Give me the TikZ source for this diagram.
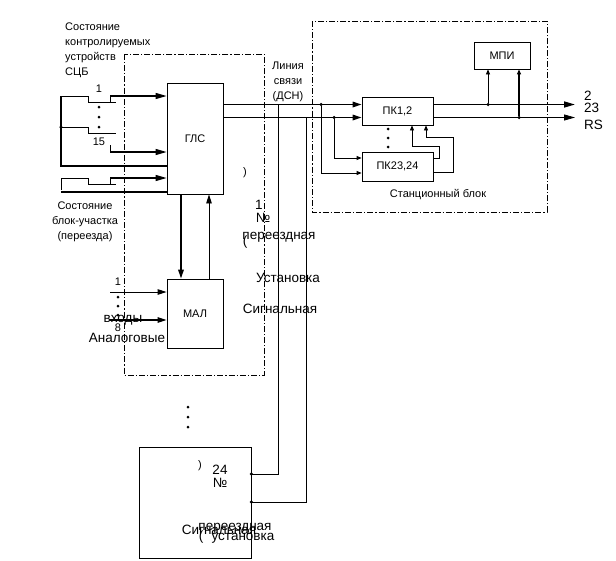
\documentclass[tikz,border=0pt]{standalone}
\usepackage{fontspec}
\setmainfont{Liberation Sans}
\usetikzlibrary{arrows.meta}
\begin{document}
\begin{tikzpicture}[x=1pt,y=-1pt,
 thinl/.style={line width=0.8pt},
 medl/.style={line width=1.2pt},
 thickl/.style={line width=1.6pt},
 box/.style={draw,line width=0.8pt,rectangle,inner sep=0pt,font=\fontsize{11}{13}\selectfont},
 ddash/.style={line width=0.8pt,dash pattern=on 6pt off 2pt on 1.2pt off 2pt},
 bigtip/.style={-{Triangle[length=11pt,width=6pt]}},
 midtip/.style={-{Triangle[length=9pt,width=5.5pt]}},
 smalltip/.style={-{Triangle[length=5pt,width=4pt]}},
 lab/.style={font=\fontsize{11}{15}\selectfont,inner sep=0pt},
 biglab/.style={font=\fontsize{13.5}{15}\selectfont,inner sep=0pt},
 jdot/.style={circle,fill,inner sep=0pt,minimum size=3.5pt},
 ldot/.style={circle,fill,inner sep=0pt,minimum size=3pt}]
\fill[white] (0,0) rectangle (616,560);
\useasboundingbox (0,0) rectangle (616,560);

% dash-dot frames
\draw[ddash] (124,54) rectangle (264,375);
\draw[ddash] (312,21) rectangle (547,212);

% blocks
\node[box,minimum width=56pt,minimum height=111pt] (gls) at (195,138.5) {ГЛС};
\node[box,minimum width=56pt,minimum height=69pt] (mal) at (195,313.5) {МАЛ};
\node[box,minimum width=71pt,minimum height=28pt] (pk12) at (397.5,111) {ПК1,2};
\node[box,minimum width=71pt,minimum height=29pt] (pk2324) at (397.5,166.5) {ПК23,24};
\node[box,minimum width=56pt,minimum height=27pt] (mpi) at (502,55.5) {МПИ};
\node[box,minimum width=112pt,minimum height=111pt] (bot) at (195,502.5) {};

% helper levels
\coordinate (u) at (0,104.5);
\coordinate (l) at (0,117.5);

% left texts
\node[lab,align=left,anchor=north west] (t1) at (65,22.5) {Состояние\\контролируемых\\устройств\\СЦБ};
\node[lab,align=center] (t2) at (85,222) {Состояние\\блок-участка\\(переезда)};
\node[lab,align=center] (t3) at (288,81.5) {Линия\\связи\\(ДСН)};
\node[lab] (t4) at (438,195) {Станционный блок};

% contacts into ГЛС
\coordinate (c1) at (110,96);
\coordinate (c15) at (110,152);
\coordinate (c3) at (110,178);
\coordinate (cm) at (61,166);
\coordinate (cb) at (61,192);
\draw[medl] (61,96) -- (cm) -- (cm -| gls.west);
\draw[thinl] (61,96) -- (88,96) -- (88,102) -- (116,102);
\draw[thinl] (110,102) -- (c1);
\draw[medl,bigtip] (c1) -- (c1 -| gls.west);
\draw[thinl] (61,127) -- (88,127) -- (88,133) -- (116,133);
\draw[thinl] (110,145) -- (c15);
\draw[medl,bigtip] (c15) -- (c15 -| gls.west);
\draw[thinl] (61,190) -- (61,178) -- (88,178) -- (88,184) -- (116,184);
\draw[thinl] (110,184) -- (c3);
\draw[medl,bigtip] (c3) -- (c3 -| gls.west);
\draw[medl] (cb) -- (cb -| gls.west);
\node[jdot] (j0) at (61,127) {};
\node[ldot] (d1) at (99,107) {};
\node[ldot] (d2) at (99,117) {};
\node[ldot] (d3) at (99,127) {};
\node[lab] (n1) at (99,89) {1};
\node[lab] (n15) at (99,142) {15};

% ГЛС outputs
\draw[thickl,midtip] (gls.east |- u) -- (pk12.west |- u);
\draw[thickl,midtip] (gls.east |- l) -- (pk12.west |- l);
\coordinate (v1) at (278,474);
\coordinate (v2) at (306,502);
\draw[thinl] (v1 |- u) -- (v1) -- (v1 -| bot.east);
\draw[thinl] (v2 |- l) -- (v2) -- (v2 -| bot.east);
\node[jdot] (j1) at (v1 -| bot.east) {};
\node[jdot] (j2) at (v2 -| bot.east) {};

% branches to ПК23,24
\coordinate (b1) at (321,173);
\coordinate (b2) at (334,158);
\node[jdot] (j3) at (b1 |- u) {};
\node[jdot] (j4) at (b2 |- l) {};
\draw[thinl,smalltip] (j3) -- (b1) -- (b1 -| pk2324.west);
\draw[thinl,smalltip] (j4) -- (b2) -- (b2 -| pk2324.west);

% feedback ПК23,24 -> ПК1,2
\coordinate (f1) at (412,146);
\coordinate (f2) at (426,137);
\draw[thinl,smalltip] (pk2324.east |- 0,158) -- (439,158) -- (439,146) -- (f1) -- (f1 |- pk12.south);
\draw[thinl,smalltip] (pk2324.east |- 0,172) -- (453,172) -- (453,137) -- (f2) -- (f2 |- pk12.south);
\node[ldot] (d4) at (388,129) {};
\node[ldot] (d5) at (388,138) {};
\node[ldot] (d6) at (388,147) {};

% outputs
\coordinate (o1) at (575,104.5);
\coordinate (o2) at (575,117.5);
\draw[thickl,bigtip] (pk12.east |- u) -- (o1);
\draw[thinl,bigtip] (pk12.east |- l) -- (o2);
\node[biglab,anchor=west] (r1) at (584,96) {2};
\node[biglab,anchor=west] (r2) at (584,108) {23};
\node[biglab,anchor=west] (r3) at (584,125) {RS};

% МПИ
\node[jdot] (j5) at (488,104.5) {};
\node[jdot] (j6) at (519,117.5) {};
\draw[thinl,smalltip] (j5) -- (j5 |- mpi.south);
\draw[medl,smalltip] (j6) -- (j6 |- mpi.south);

% ГЛС <-> МАЛ
\draw[thickl,midtip] (gls.south -| 181,0) -- (mal.north -| 181,0);
\draw[thinl,midtip] (mal.north -| 209,0) -- (gls.south -| 209,0);

% МАЛ inputs
\coordinate (m1) at (110,292);
\coordinate (m8) at (110,320);
\draw[thinl,midtip] (m1) -- (m1 -| mal.west);
\draw[medl,midtip] (m8) -- (m8 -| mal.west);
\node[lab] (n1b) at (118,282) {1};
\node[lab] (n8) at (118,328) {8};
\node[ldot] (d7) at (118,297) {};
\node[ldot] (d8) at (118,306) {};
\node[ldot] (d9) at (118,315) {};
\node[biglab] (a1) at (123,320) {входы};
\node[biglab] (a2) at (127,338) {Аналоговые};

% labels near left block
\node[lab] (p0) at (245,173) {)};
\node[biglab] (p1) at (259,205) {1};
\node[biglab] (p2) at (263,218) {№};
\node[biglab] (p3) at (245,242) {(};
\node[biglab] (p4) at (279,237) {переездная};
\node[biglab] (p5) at (288,278) {Установка};
\node[biglab] (p6) at (280,309) {Сигнальная};

% dots above bottom block
\node[ldot] (d10) at (188,407) {};
\node[ldot] (d11) at (188,417) {};
\node[ldot] (d12) at (188,427) {};

% labels in bottom block
\node[lab] (q0) at (200,466) {)};
\node[biglab] (q1) at (220,470) {24};
\node[biglab] (q2) at (220,483) {№};
\node[biglab] (q3) at (219,530) {Сигнальная};
\node[biglab] (q4) at (235,528) {переездная};
\node[biglab] (q5) at (201,537) {(};
\node[biglab] (q6) at (243,538) {установка};
\end{tikzpicture}
\end{document}
